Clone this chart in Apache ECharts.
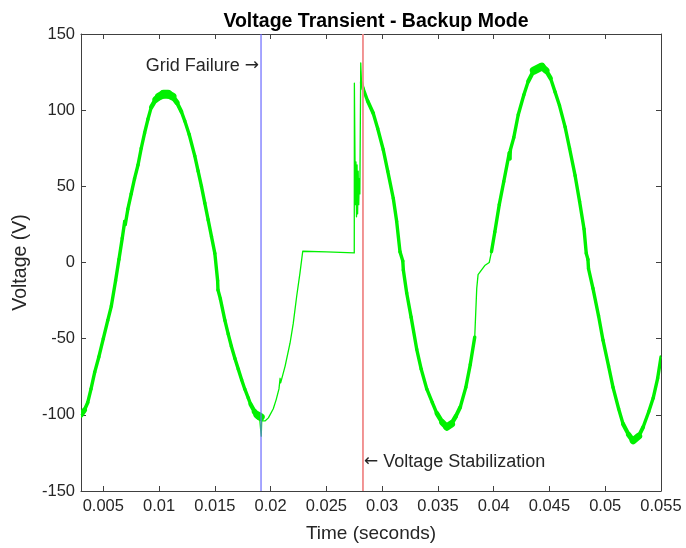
<!DOCTYPE html>
<html>
<head>
<meta charset="utf-8">
<script src="https://cdn.jsdelivr.net/npm/echarts@6/dist/echarts.min.js"></script>
<style>
html,body{margin:0;padding:0;background:#fff;}
#chart{width:686px;height:548px;}
</style>
</head>
<body>
<div id="chart"></div>
<script>
// ---- data ----
const timeSec = [
  0.0030,0.0033,0.0036,0.0039,0.00423,0.0046,0.0050,0.0054,0.00572,0.0061,
  0.0064,0.0067,0.00692,0.00697,0.0072,0.0075,0.0078,0.00811,0.0084,0.0087,
  0.0090,0.0093,0.0097,0.0100,0.0104,0.0108,0.0112,0.0116,0.0120,0.0123,
  0.0127,0.0132,0.0135,0.0138,0.0141,0.0144,0.0147,0.0150,0.01525,0.01528,
  0.0155,0.0159,0.0162,0.01648,0.0168,0.0171,0.0174,0.01768,0.0180,0.0182,
  0.01857,0.0188,0.0190,0.01912,0.01916,0.0192,0.0195,0.0198,0.02024,0.0205,
  0.02075,0.02085,0.0209,0.0213,0.02174,0.02203,0.02234,0.02263,0.02288,0.0250,
  0.0275,0.02751,0.02757,0.0276,0.02765,0.0277,0.02775,0.0278,0.02785,0.0279,
  0.02795,0.0280,0.02808,0.02815,0.0283,0.0287,0.0292,0.0296,0.0301,0.0305,
  0.0310,0.0313,0.0316,0.03185,0.0319,0.0322,0.0326,0.0331,0.0335,0.0340,
  0.0345,0.0349,0.0354,0.0358,0.0362,0.0366,0.0370,0.0375,0.0379,0.0383,
  0.03848,0.0386,0.0389,0.0392,0.0396,0.0398,0.0401,0.0405,0.0409,0.0414,
  0.04145,0.0415,0.0418,0.0422,0.0427,0.0431,0.0436,0.0443,0.0447,0.0451,
  0.0455,0.0459,0.0464,0.0468,0.0473,0.0477,0.0481,0.0483,0.04845,0.0485,
  0.0489,0.0494,0.0498,0.0503,0.0507,0.0512,0.0516,0.0521,0.0525,0.0530,
  0.0534,0.0539,0.0543,0.0547,0.0550
];
const voltage = [
  -100,-97,-92,-83,-72,-62,-50,-38,-28.6,-12,
  2,16,27,25,35,45,55,64,75,85,
  94,102,107,109,110.5,110.5,109,105,99,93,
  84,70,60,50,39,28,17,6,-12,-18,
  -24,-38,-47,-55,-63,-70,-77,-83,-89,-93,
  -98,-100,-101,-101.5,-114,-104,-104,-102,-96,-90,
  -83,-76,-79,-68,-53,-40,-22,-7,7.4,7,
  6.3,117.7,64,38,66,30,64,32,60,38,
  55,45,131,118,114,106,98,88,74,60,
  42,27,7,1,-5,-20,-36,-57,-70,-83,
  -92,-99,-105,-108,-106,-101,-95,-82,-67,-49,
  -17,-8,-5,-2,0,7,20,38,53,72,
  68,74,82,97,110,119,126,128.6,126,121,
  112,103,89,75,57,40,22,6,2,-4,
  -17,-35,-51,-68,-82,-96,-106,-113,-117,-114,
  -108,-98,-89,-76,-62
];
// time ranges where the trace carries the high-frequency ripple band
const noisyRanges = [[0.0030, 0.01912], [0.02815, 0.0383], [0.0398, 0.0550]];
const gridFailureTime = 0.01914;
const stabilizationTime = 0.02828;
const xTicks = [0.005,0.01,0.015,0.02,0.025,0.03,0.035,0.04,0.045,0.05,0.055];

// ---- build ----
const allPts = timeSec.map((t, i) => [t, voltage[i]]);
const isNoisy = t => noisyRanges.some(r => t >= r[0] - 1e-9 && t <= r[1] + 1e-9);
const bandSegs = [];
for (let i = 0; i < allPts.length - 1; i++) {
  const a = allPts[i], b = allPts[i + 1];
  if (isNoisy(a[0]) && isNoisy(b[0])) bandSegs.push([a[0], a[1], b[0], b[1]]);
}
const GREEN = '#00f000';
const BAND_H = 9;     // apparent ripple height at crests (px)
const BAND_MIN = 3.4; // apparent ripple thickness on steep slopes (px)

const FONT = 'Liberation Sans, Arial, Helvetica, sans-serif';
const TXT = '#262626';
const AX = '#404040';

const chart = echarts.init(document.getElementById('chart'), null, { renderer: 'canvas' });
chart.setOption({
  animation: false,
  backgroundColor: '#ffffff',
  title: {
    text: 'Voltage Transient - Backup Mode',
    left: 371, top: 7, textAlign: 'center',
    textStyle: { fontFamily: FONT, fontSize: 19.5, fontWeight: 'bold', color: '#000' }
  },
  grid: { left: 81, right: 25, top: 34, bottom: 55, containLabel: false },
  xAxis: [{
    type: 'value', min: 0.003, max: 0.055,
    name: 'Time (seconds)', nameLocation: 'middle', nameGap: 33,
    nameTextStyle: { fontFamily: FONT, fontSize: 19, color: TXT },
    axisLine: { show: true, onZero: false, lineStyle: { color: AX, width: 1 } },
    axisTick: { show: true, inside: true, length: 5, customValues: xTicks, lineStyle: { color: AX } },
    axisLabel: { customValues: xTicks, fontFamily: FONT, fontSize: 16.5, color: TXT, margin: 7,
      formatter: v => String(+v.toFixed(3)) },
    splitLine: { show: false }
  }, {
    type: 'value', min: 0.003, max: 0.055, position: 'top',
    axisLine: { show: true, onZero: false, lineStyle: { color: AX, width: 1 } },
    axisTick: { show: true, inside: true, length: 5, customValues: xTicks, lineStyle: { color: AX } },
    axisLabel: { show: false },
    splitLine: { show: false }
  }],
  yAxis: [{
    type: 'value', min: -150, max: 150, interval: 50,
    name: 'Voltage (V)', nameLocation: 'middle', nameGap: 50, nameRotate: 90,
    nameTextStyle: { fontFamily: FONT, fontSize: 19.5, color: TXT },
    axisLine: { show: true, onZero: false, lineStyle: { color: AX, width: 1 } },
    axisTick: { show: true, inside: true, length: 5, lineStyle: { color: AX } },
    axisLabel: { fontFamily: FONT, fontSize: 16.5, color: TXT, margin: 6 },
    splitLine: { show: false }
  }, {
    type: 'value', min: -150, max: 150, interval: 50, position: 'right',
    axisLine: { show: true, onZero: false, lineStyle: { color: AX, width: 1 } },
    axisTick: { show: true, inside: true, length: 5, lineStyle: { color: AX } },
    axisLabel: { show: false },
    splitLine: { show: false }
  }],
  series: [{
    type: 'custom', data: bandSegs, silent: true, z: 2, clip: true,
    encode: { x: [0, 2], y: [1, 3] },
    renderItem: function (params, api) {
      const p0 = api.coord([api.value(0), api.value(1)]);
      const p1 = api.coord([api.value(2), api.value(3)]);
      const dx = p1[0] - p0[0], dy = p1[1] - p0[1];
      const len = Math.sqrt(dx * dx + dy * dy) || 1;
      const w = Math.max(BAND_MIN, BAND_H * Math.abs(dx) / len);
      return {
        type: 'line',
        shape: { x1: p0[0], y1: p0[1], x2: p1[0], y2: p1[1] },
        style: { stroke: GREEN, lineWidth: w, lineCap: 'round', fill: null }
      };
    }
  }, {
    type: 'line', data: allPts, showSymbol: false, silent: true, z: 3,
    lineStyle: { color: GREEN, width: 1.3, join: 'round' }
  }, {
    type: 'line', silent: true, z: 4, showSymbol: false,
    data: [[gridFailureTime, -150], [gridFailureTime, 150]],
    lineStyle: { color: '#6a6aff', width: 1.2 }
  }, {
    type: 'line', silent: true, z: 4, showSymbol: false,
    data: [[stabilizationTime, -150], [stabilizationTime, 150]],
    lineStyle: { color: '#f08a8a', width: 1.8 },
    markPoint: {
      silent: true, symbol: 'circle', symbolSize: 0, animation: false,
      data: [
        { coord: [gridFailureTime, 129],
          label: { show: true, position: 'left', distance: 2,
            formatter: 'Grid Failure {a|\u2192}',
            fontFamily: FONT, fontSize: 18, color: TXT,
            rich: { a: { fontFamily: 'DejaVu Sans', fontSize: 17, color: TXT } } } },
        { coord: [stabilizationTime, -131],
          label: { show: true, position: 'right', distance: 1,
            formatter: '{a|\u2190} Voltage Stabilization',
            fontFamily: FONT, fontSize: 18, color: TXT,
            rich: { a: { fontFamily: 'DejaVu Sans', fontSize: 17, color: TXT } } } }
      ]
    }
  }]
});
</script>
</body>
</html>
